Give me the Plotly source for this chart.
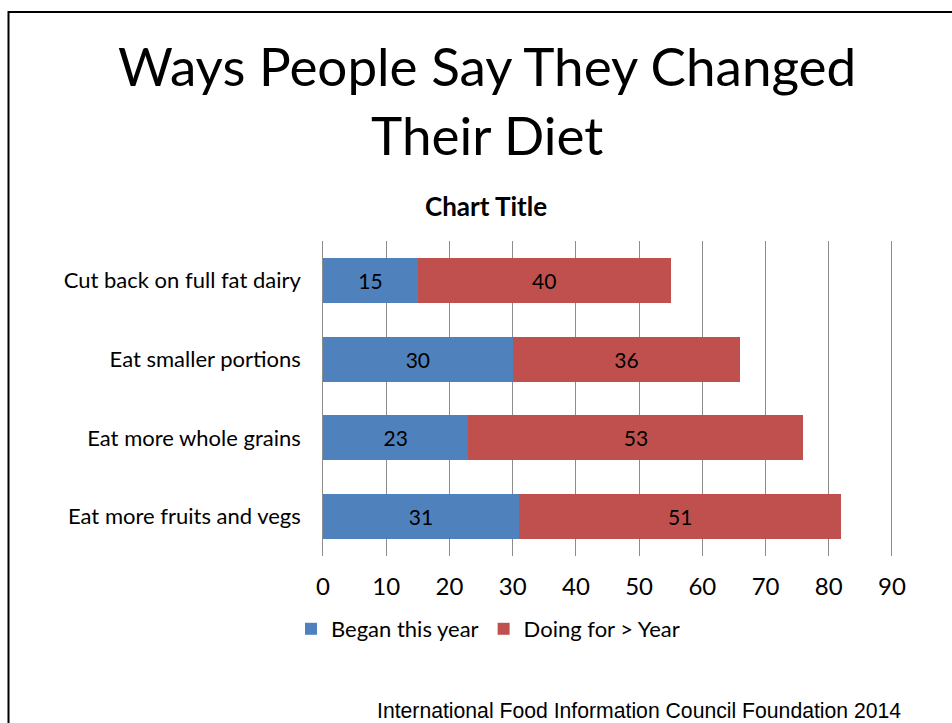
import plotly.graph_objects as go

# Survey responses (percent), listed top to bottom
categories = [
    "Cut back on full fat dairy",
    "Eat smaller portions",
    "Eat more whole grains",
    "Eat more fruits and vegs",
]
began_this_year = [15, 30, 23, 31]
doing_over_year = [40, 36, 53, 51]
x_ticks = [0, 10, 20, 30, 40, 50, 60, 70, 80, 90]

W, H = 952, 723
FONT = "Lato, Calibri, sans-serif"
BLUE = "#4F81BD"
RED = "#C0504D"

fig = go.Figure()
fig.add_trace(go.Bar(
    name="Began this year", y=categories, x=began_this_year, orientation="h",
    marker=dict(color=BLUE, line=dict(width=0)),
    text=[str(v) for v in began_this_year], textposition="inside",
    insidetextanchor="middle", textfont=dict(color="black", size=21, family=FONT),
))
fig.add_trace(go.Bar(
    name="Doing for > Year", y=categories, x=doing_over_year, orientation="h",
    marker=dict(color=RED, line=dict(width=0)),
    text=[str(v) for v in doing_over_year], textposition="inside",
    insidetextanchor="middle", textfont=dict(color="black", size=21, family=FONT),
))

def px(x):
    return x / W

def py(y):
    return 1 - y / H

# value axis: 0 sits at x=323 px, 90 at x=892 px; the range is padded by
# half a unit on each side so the end gridlines are not clipped
X0_PX, X90_PX = 323.0, 892.0
PAD = 0.5
unit = (X90_PX - X0_PX) / 90

fig.update_layout(
    width=W, height=H,
    margin=dict(l=0, r=0, t=0, b=0, autoexpand=False),
    paper_bgcolor="white", plot_bgcolor="white",
    barmode="stack", bargap=0.43,
    font=dict(family=FONT, color="black"),
    xaxis=dict(
        domain=[px(X0_PX - PAD * unit), px(X90_PX + PAD * unit)],
        range=[-PAD, 90 + PAD], automargin=False,
        tickvals=x_ticks, ticktext=[str(v) for v in x_ticks],
        showgrid=True, gridcolor="#8C8C8C", gridwidth=1,
        zeroline=False, showline=False, ticks="",
        tickfont=dict(size=24, family=FONT), ticklabelstandoff=14,
    ),
    yaxis=dict(
        domain=[py(556), py(241)], autorange="reversed", automargin=False,
        showgrid=False, zeroline=False, showline=False, ticks="",
        tickfont=dict(size=22, family=FONT), ticklabelstandoff=18,
    ),
    legend=dict(
        orientation="h", traceorder="normal",
        x=px(488), xanchor="center", y=py(629), yanchor="middle",
        font=dict(size=22, family=FONT), itemwidth=30,
        bgcolor="rgba(0,0,0,0)",
    ),
    showlegend=True,
)

# Slide title
fig.add_annotation(
    text="Ways People Say They Changed<br>Their Diet",
    x=px(487), y=py(100), xref="paper", yref="paper",
    xanchor="center", yanchor="middle", showarrow=False,
    font=dict(size=53, family=FONT, color="black"),
)
# Chart title
fig.add_annotation(
    text="<b>Chart Title</b>",
    x=px(486), y=py(206), xref="paper", yref="paper",
    xanchor="center", yanchor="middle", showarrow=False,
    font=dict(size=26, family=FONT, color="black"),
)
# Source line
fig.add_annotation(
    text="International Food Information Council Foundation 2014",
    x=px(903), y=py(710), xref="paper", yref="paper",
    xanchor="right", yanchor="middle", showarrow=False,
    font=dict(size=21.2, family="Liberation Sans, Arial, sans-serif", color="black"),
)

# Slide frame
fig.add_shape(
    type="rect", xref="paper", yref="paper",
    x0=px(8.5), x1=px(W + 20), y0=py(12), y1=py(H + 20),
    line=dict(color="black", width=2), fillcolor="rgba(0,0,0,0)", layer="below",
)

fig.write_html("out.html")
